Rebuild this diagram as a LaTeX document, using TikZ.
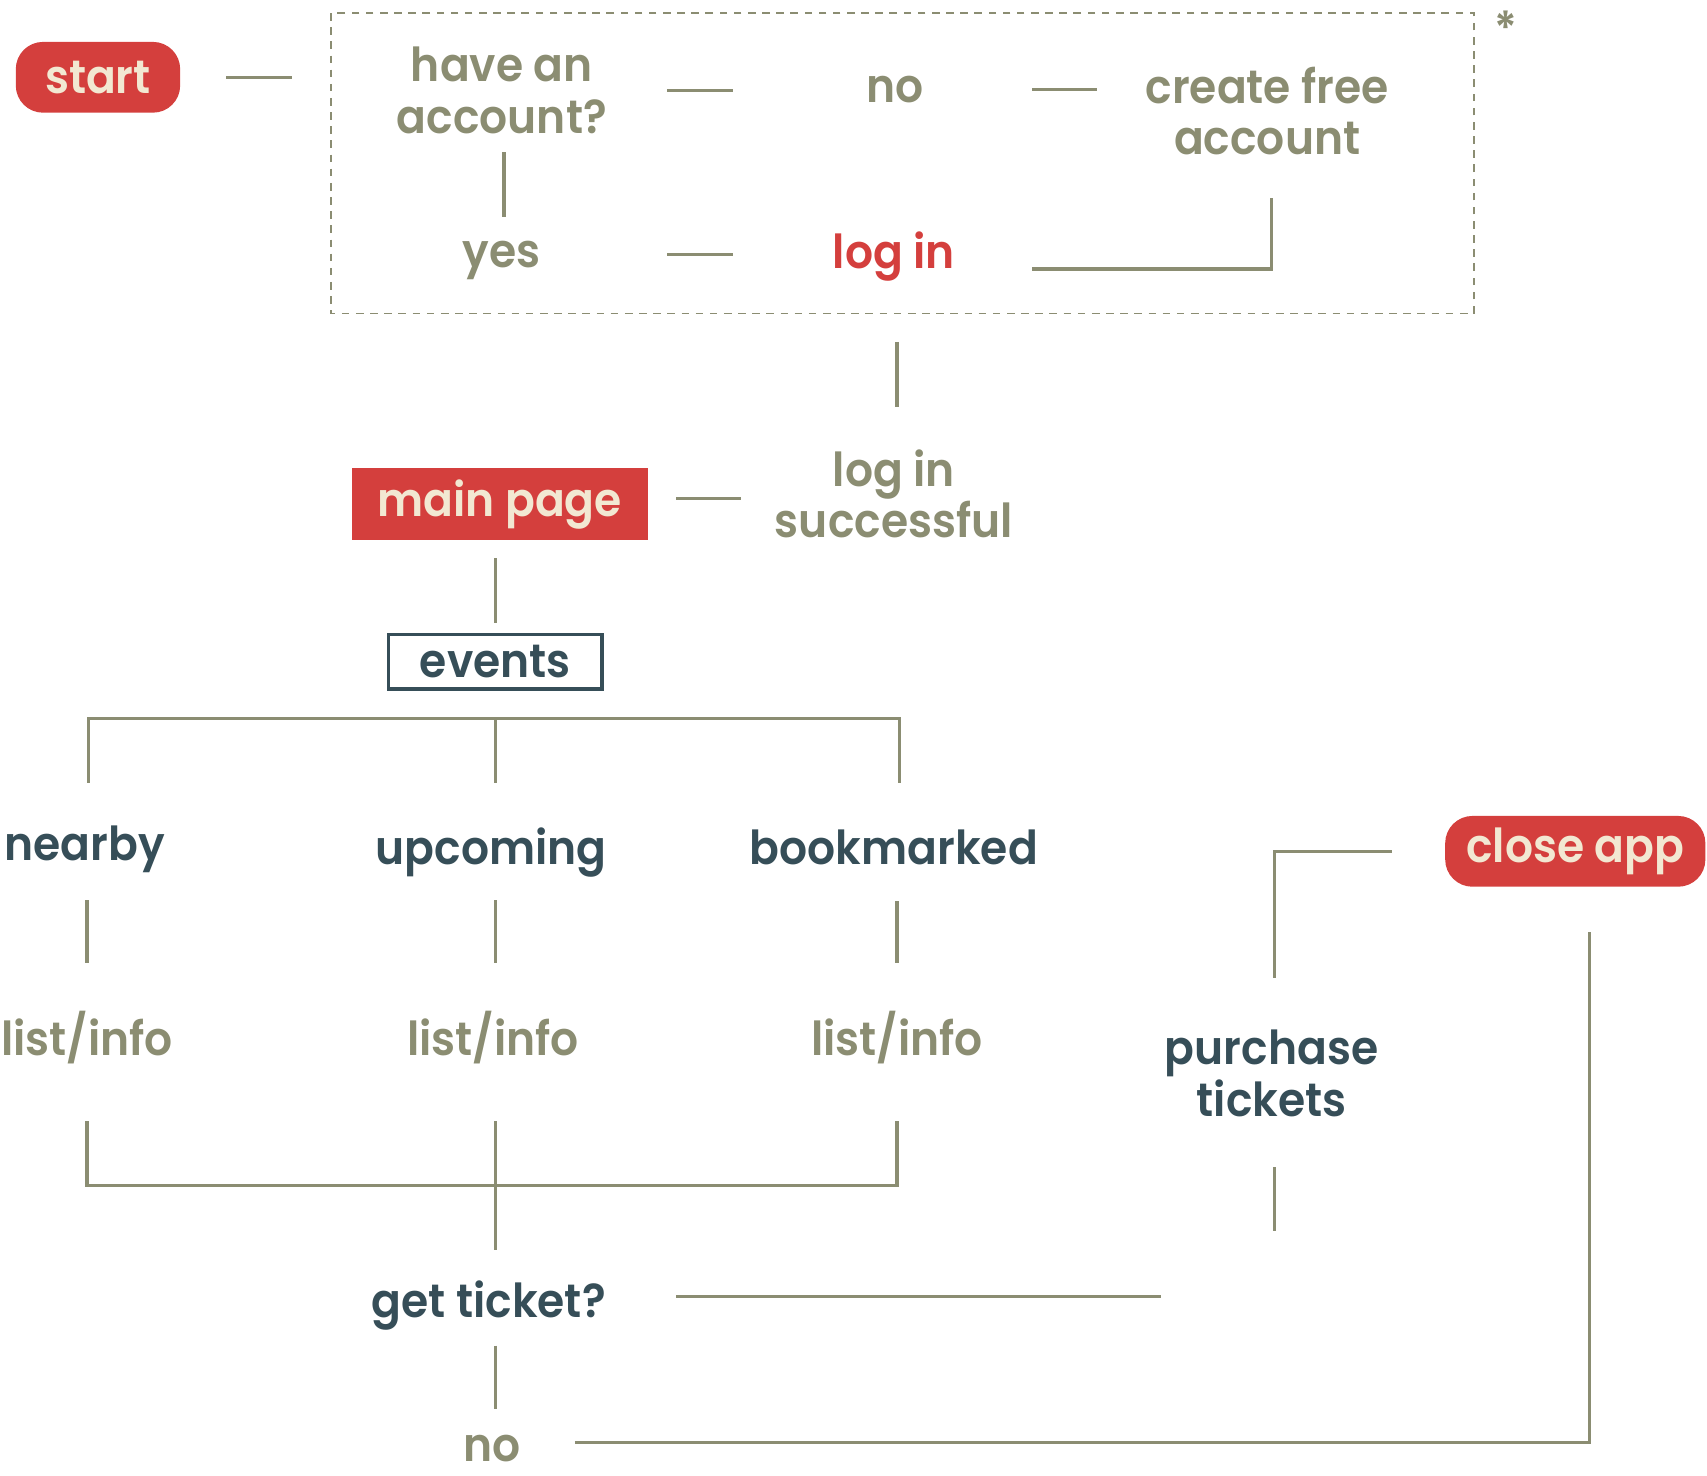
\documentclass[tikz,border=0pt]{standalone}
\usepackage{fontspec}
\setmainfont{Poppins SemiBold}[FakeStretch=0.94]
\usepackage{tikz}
\definecolor{olv}{HTML}{8B8D72}
\definecolor{rd}{HTML}{D43F3D}
\definecolor{crm}{HTML}{F2E8D2}
\definecolor{dkb}{HTML}{364E58}
\tikzset{tx/.style   = {text=olv, inner sep=0pt, align=center, font=\fontsize{43}{47}\selectfont},
         dk/.style   = {text=dkb, inner sep=0pt, align=center, font=\fontsize{43}{47}\selectfont},
         pill/.style = {fill=rd, text=crm, rounded corners=25pt, minimum width=151pt, minimum height=65pt, inner sep=0pt, font=\fontsize{43}{47}\selectfont},
         rbox/.style = {fill=rd, text=crm, minimum width=272pt, minimum height=66pt, inner sep=0pt, font=\fontsize{43}{47}\selectfont},
         obox/.style = {draw=dkb, line width=3pt, fill=white, text=dkb, minimum width=196pt, minimum height=50pt, inner sep=0pt, font=\fontsize{43}{47}\selectfont},
         ln/.style   = {draw=olv, line width=3pt}}

\begin{document}
\begin{tikzpicture}[x=1pt, y=-1pt]
    \useasboundingbox (0,0) rectangle (1568,1355);
    % account block
    \draw[olv, line width=1.5pt, dash pattern=on 7pt off 6pt] (304,12) rectangle (1354,288);
    \node[tx] (star) at (1383,26) {*};
    \node[pill] (start) at (90,71) {start};
    \node[tx] (have) at (461,83) {have an\\account?};
    \node[tx] (no1) at (822,82) {no};
    \node[tx] (create) at (1164,102) {create free\\account};
    \node[tx] (yes) at (461,239) {yes};
    \node[tx, text=rd] (login) at (821,236) {log in};
    \node[tx] (loginok) at (821,454) {log in\\successful};
    \node[rbox] (main) at (459,463) {main page};
    \node[obox] (events) at (455,608) {events};
    % event lists
    \node[dk] (nearby) at (78,780) {nearby};
    \node[dk] (upcoming) at (451,783) {upcoming};
    \node[dk] (bookmarked) at (821,778) {bookmarked};
    \node[tx] (list1) at (80,953) {list/info};
    \node[tx] (list2) at (453,953) {list/info};
    \node[tx] (list3) at (824,953) {list/info};
    \coordinate (split) at (455,660);
    \coordinate (merge) at (455,1089);
    \node[dk] (ticket) at (449,1199) {get ticket?};
    \node[tx] (no2) at (452,1331) {no};
    \node[dk] (purchase) at (1168,986) {purchase\\tickets};
    \node[pill, minimum width=239pt] (close) at (1447,782) {close app};
    % connectors
    \draw[ln, shorten <=118pt, shorten >=193pt] (start.center) -- (start.center -| have.center);
    \draw[ln, shorten <=152pt, shorten >=149pt] (have.center) -- (have.center -| no1.center);
    \draw[ln, shorten <=126pt, shorten >=156pt] (no1.center) -- (no1.center -| create.center);
    \draw[ln, shorten <=57pt, shorten >=40pt] ([xshift=2pt]have.center) -- ([xshift=2pt]yes.center);
    \draw[ln, shorten <=152pt, shorten >=148pt] ([yshift=5pt]yes.center -| have.center) -- ([yshift=5pt]yes.center -| login.center);
    \draw[ln, shorten <=80pt, shorten >=127pt] ([xshift=4pt]create.center) |- ([yshift=-11pt]login.center);
    \draw[ln, shorten <=78pt, shorten >=80pt] ([xshift=3pt]login.center) -- ([xshift=3pt]loginok.center);
    \draw[ln, shorten <=162pt, shorten >=140pt] ([yshift=-4pt]loginok.center -| main.center) -- ([yshift=-4pt]loginok.center);
    \draw[ln, shorten <=50pt, shorten >=36pt] (events.center |- main.center) -- (events.center);
    \draw[ln, shorten <=61pt, shorten >=59pt] ([xshift=3pt]nearby.center) |- (split) -| ([xshift=5pt]bookmarked.center);
    \draw[ln, shorten >=64pt] (split) -- (split |- upcoming.center);
    \draw[ln, shorten <=47pt, shorten >=68pt] (list1.center |- nearby.center) -- (list1.center);
    \draw[ln, shorten <=44pt, shorten >=68pt] (split |- upcoming.center) -- (split |- list2.center);
    \draw[ln, shorten <=50pt, shorten >=68pt] (list3.center |- bookmarked.center) -- (list3.center);
    \draw[ln, shorten <=77pt, shorten >=77pt] (list1.center) |- (merge) -| (list3.center);
    \draw[ln, shorten <=77pt, shorten >=51pt] (merge |- list2.center) -- (merge |- ticket.center);
    \draw[ln, shorten <=37pt, shorten >=37pt] (merge |- ticket.center) -- (merge |- no2.center);
    \draw[ln, shorten <=172pt, shorten >=102pt] ([yshift=8pt]ticket.center) -- ([yshift=8pt]ticket.center -| purchase.center);
    \draw[ln, shorten <=86pt, shorten >=60pt] ([xshift=3pt]purchase.center) -- ([xshift=3pt, yshift=8pt]purchase.center |- ticket.center);
    \draw[ln, shorten <=88pt, shorten >=168pt] ([xshift=3pt]purchase.center) |- (close.center);
    \draw[ln, shorten <=76pt, shorten >=74pt] ([yshift=6pt]no2.center) -| ([xshift=13pt]close.center);
\end{tikzpicture}
\end{document}
